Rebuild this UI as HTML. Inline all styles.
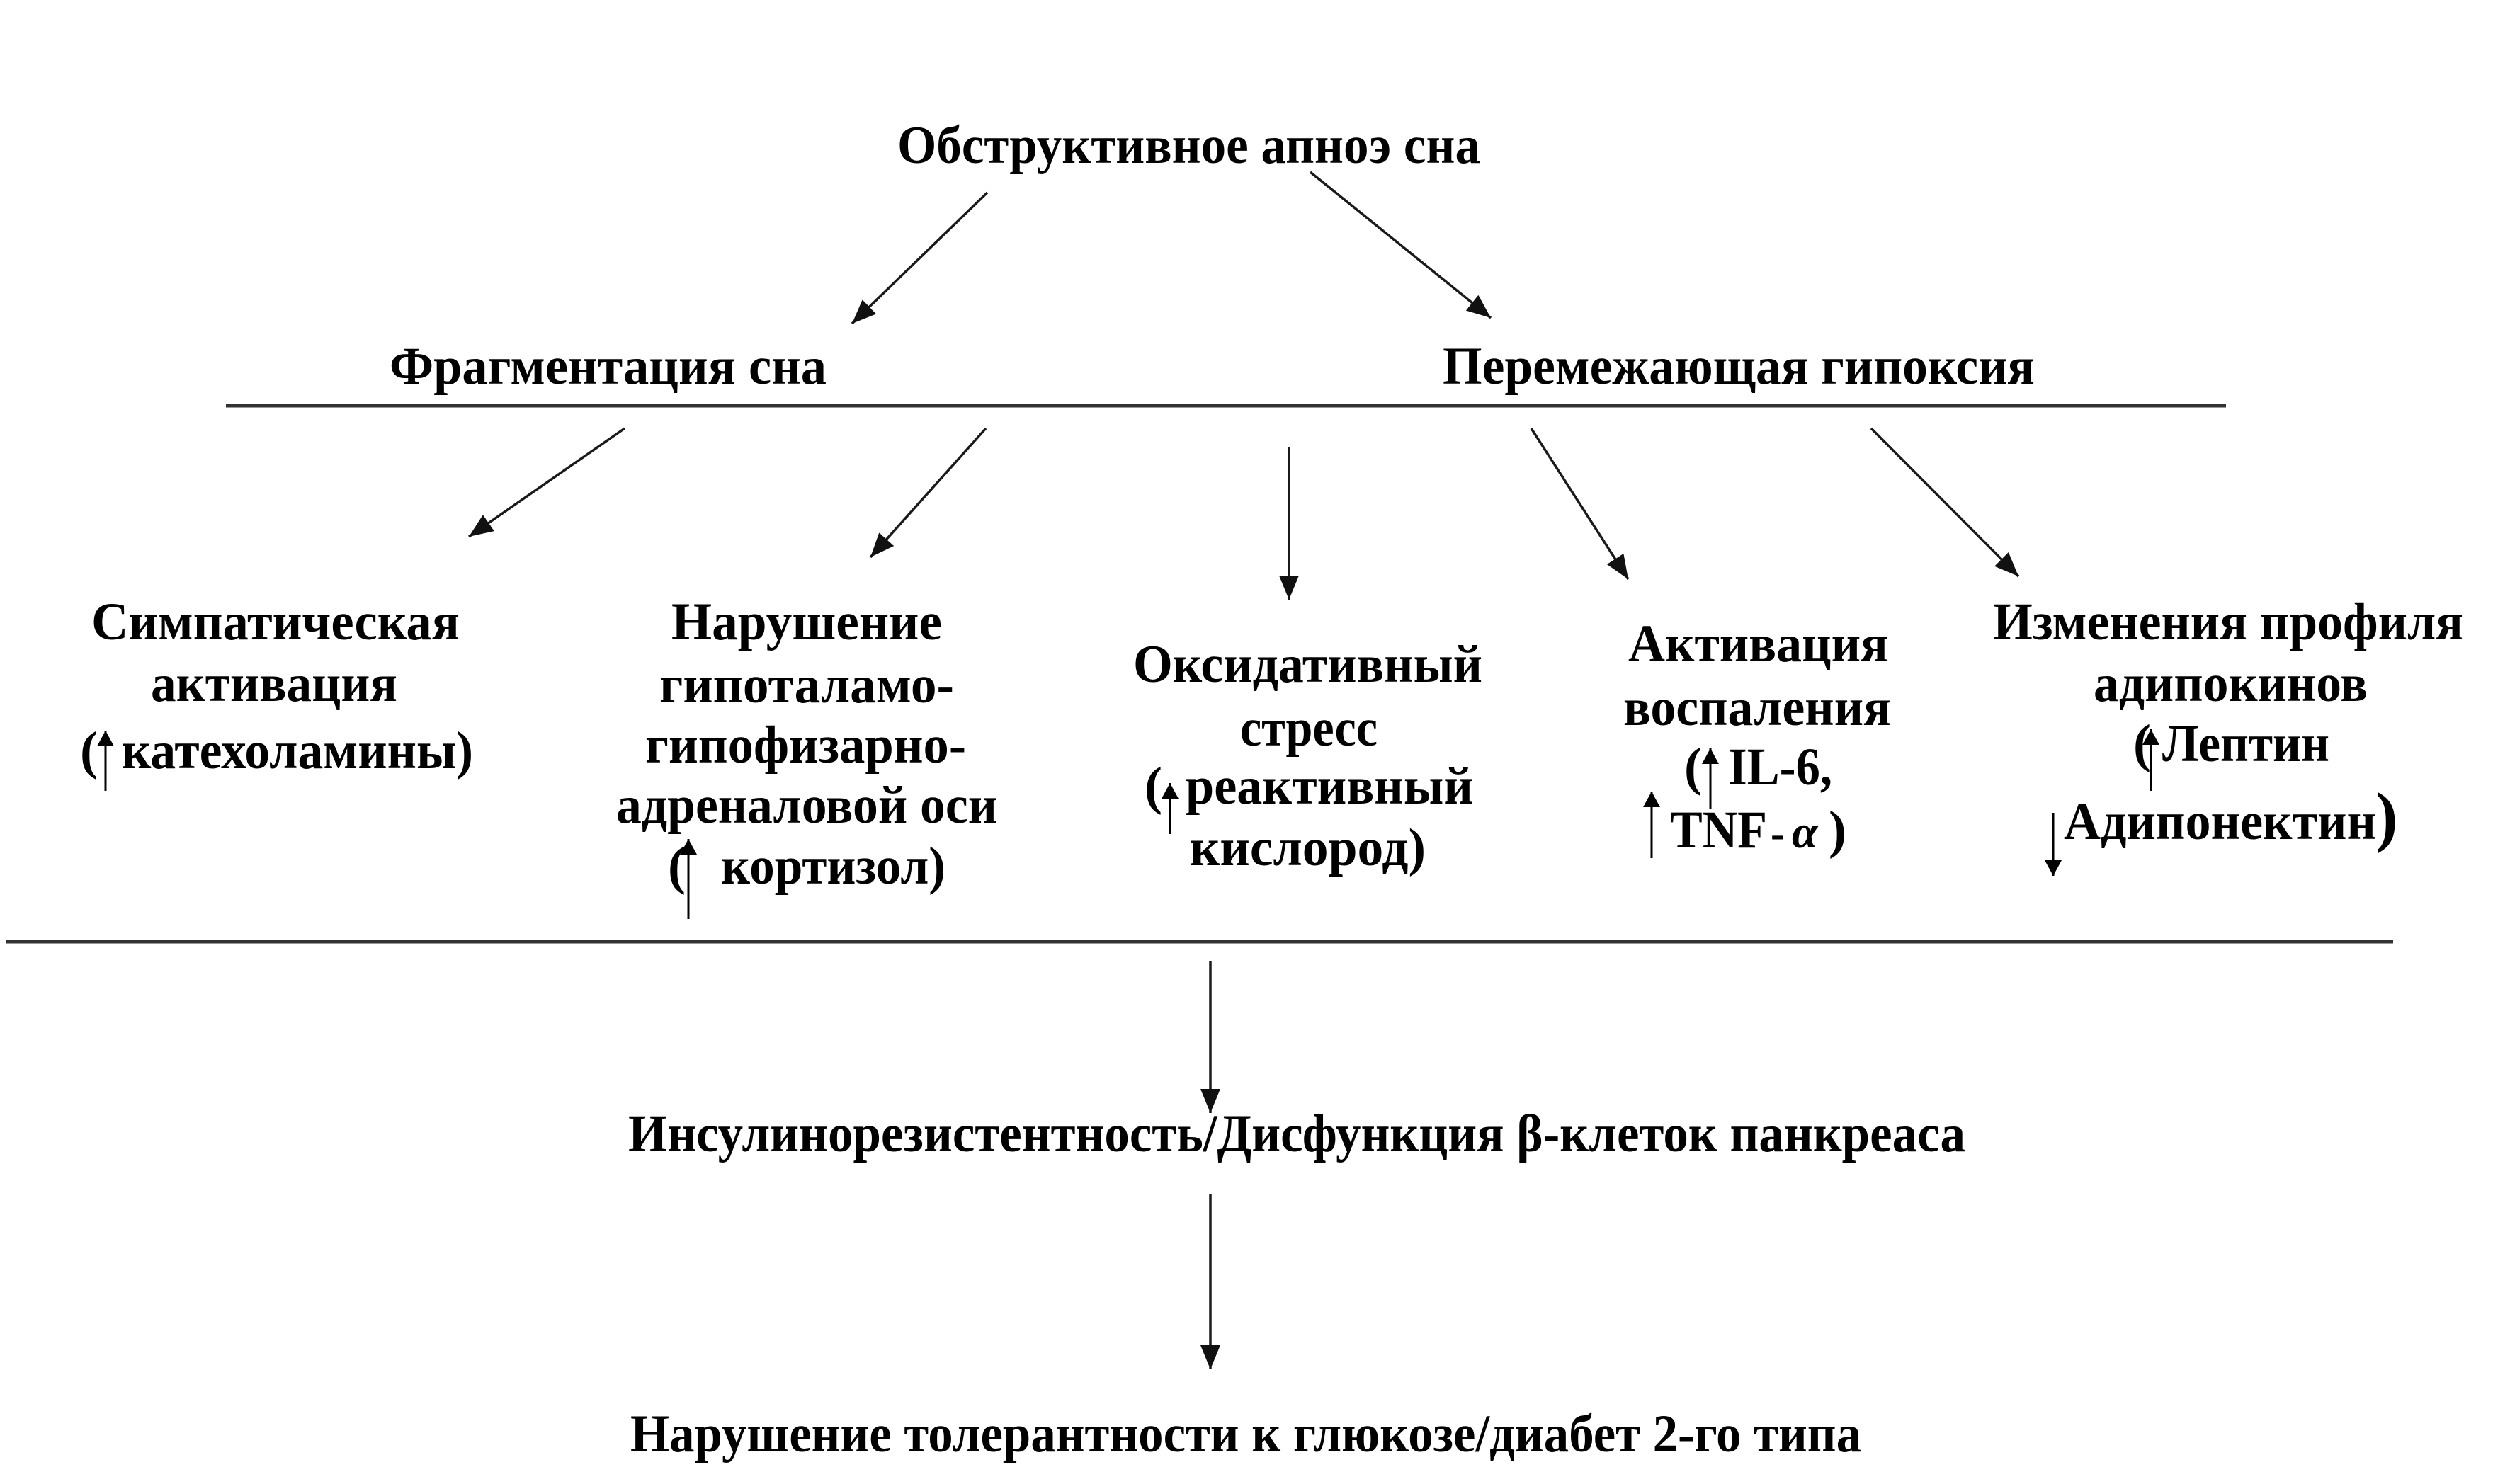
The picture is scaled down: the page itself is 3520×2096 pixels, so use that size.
<!DOCTYPE html>
<html>
<head>
<meta charset="utf-8">
<style>
html,body{margin:0;padding:0;background:#fff;}
svg{display:block;}
</style>
</head>
<body>
<svg width="3520" height="2096" viewBox="0 0 3520 2096" xmlns="http://www.w3.org/2000/svg">
<defs>
<marker id="ah" markerUnits="userSpaceOnUse" markerWidth="34" markerHeight="28" refX="34" refY="14" orient="auto">
<path d="M0,0 L34,14 L0,28 z" fill="#111"/>
</marker>
<marker id="sh" markerUnits="userSpaceOnUse" markerWidth="22" markerHeight="24" refX="22" refY="12" orient="auto">
<path d="M0,0 L22,12 L0,24 z" fill="#000"/>
</marker>
</defs>
<rect width="3520" height="2096" fill="#fff"/>

<!-- horizontal rules -->
<line x1="319" y1="573" x2="3143" y2="573" stroke="#333" stroke-width="5"/>
<line x1="9" y1="1330" x2="3379" y2="1330" stroke="#333" stroke-width="5"/>

<!-- main connectors -->
<g stroke="#1a1a1a" stroke-width="3.5" fill="none">
<line x1="1394" y1="272" x2="1203" y2="457" marker-end="url(#ah)"/>
<line x1="1850" y1="243" x2="2105" y2="449" marker-end="url(#ah)"/>
<line x1="882" y1="605" x2="662" y2="758" marker-end="url(#ah)"/>
<line x1="1392" y1="605" x2="1229" y2="787" marker-end="url(#ah)"/>
<line x1="1820" y1="632" x2="1820" y2="847" marker-end="url(#ah)"/>
<line x1="2162" y1="605" x2="2299" y2="818" marker-end="url(#ah)"/>
<line x1="2642" y1="605" x2="2850" y2="814" marker-end="url(#ah)"/>
<line x1="1709" y1="1358" x2="1709" y2="1572" marker-end="url(#ah)"/>
<line x1="1709" y1="1687" x2="1709" y2="1934" marker-end="url(#ah)"/>
</g>

<!-- inline small arrows -->
<g stroke="#000" stroke-width="3" fill="none">
<line x1="149" y1="1117" x2="149" y2="1032" marker-end="url(#sh)"/>
<line x1="972" y1="1298" x2="972" y2="1185" marker-end="url(#sh)"/>
<line x1="1652" y1="1178" x2="1652" y2="1106" marker-end="url(#sh)"/>
<line x1="2415" y1="1143" x2="2415" y2="1057" marker-end="url(#sh)"/>
<line x1="2332" y1="1212" x2="2332" y2="1118" marker-end="url(#sh)"/>
<line x1="3037" y1="1117" x2="3037" y2="1030" marker-end="url(#sh)"/>
<line x1="2899" y1="1148" x2="2899" y2="1237" marker-end="url(#sh)"/>
</g>

<g font-family="'Liberation Serif', 'Noto Serif CJK SC', serif" font-weight="bold" font-size="75" fill="#000">
<text x="1267" y="230" textLength="823" lengthAdjust="spacingAndGlyphs">Обструктивное апноэ сна</text>
<text x="550" y="542" textLength="617" lengthAdjust="spacingAndGlyphs">Фрагментация сна</text>
<text x="2037" y="542" textLength="836" lengthAdjust="spacingAndGlyphs">Перемежающая гипоксия</text>

<!-- column 1 -->
<text x="129" y="903" textLength="520" lengthAdjust="spacingAndGlyphs">Симпатическая</text>
<text x="213" y="990" textLength="348" lengthAdjust="spacingAndGlyphs">активация</text>
<text x="113" y="1085">(</text>
<text x="172" y="1085" textLength="496" lengthAdjust="spacingAndGlyphs">катехоламины)</text>

<!-- column 2 -->
<text x="948" y="903" textLength="382" lengthAdjust="spacingAndGlyphs">Нарушение</text>
<text x="931" y="992" textLength="416" lengthAdjust="spacingAndGlyphs">гипоталамо-</text>
<text x="911" y="1077" textLength="453" lengthAdjust="spacingAndGlyphs">гипофизарно-</text>
<text x="870" y="1162" textLength="538" lengthAdjust="spacingAndGlyphs">адреналовой оси</text>
<text x="943" y="1248">(</text>
<text x="1018" y="1248" textLength="317" lengthAdjust="spacingAndGlyphs">кортизол)</text>

<!-- column 3 -->
<text x="1600" y="963" textLength="493" lengthAdjust="spacingAndGlyphs">Оксидативный</text>
<text x="1751" y="1053" textLength="194" lengthAdjust="spacingAndGlyphs">стресс</text>
<text x="1616" y="1135">(</text>
<text x="1674" y="1135" textLength="406" lengthAdjust="spacingAndGlyphs">реактивный</text>
<text x="1680" y="1222" textLength="333" lengthAdjust="spacingAndGlyphs">кислород)</text>

<!-- column 4 -->
<text x="2299" y="934" textLength="367" lengthAdjust="spacingAndGlyphs">Активация</text>
<text x="2292" y="1024" textLength="378" lengthAdjust="spacingAndGlyphs">воспаления</text>
<text x="2378" y="1108">(</text>
<text x="2440" y="1108" textLength="147" lengthAdjust="spacingAndGlyphs">IL-6,</text>
<text x="2358" y="1197" textLength="137" lengthAdjust="spacingAndGlyphs">TNF</text>
<text x="2500" y="1197" font-size="60">-</text>
<text x="2530" y="1197" font-size="66" font-style="italic">α</text>
<text x="2582" y="1197">)</text>

<!-- column 5 -->
<text x="2814" y="903" textLength="664" lengthAdjust="spacingAndGlyphs">Изменения профиля</text>
<text x="2956" y="990" textLength="387" lengthAdjust="spacingAndGlyphs">адипокинов</text>
<text x="3012" y="1075">(</text>
<text x="3053" y="1075" textLength="236" lengthAdjust="spacingAndGlyphs">Лептин</text>
<text x="2914" y="1185" textLength="441" lengthAdjust="spacingAndGlyphs">Адипонектин</text>
<text x="3354" y="1185" font-size="95">)</text>

<!-- bottom -->
<text x="887" y="1626" textLength="1888" lengthAdjust="spacingAndGlyphs">Инсулинорезистентность/Дисфункция β-клеток панкреаса</text>
<text x="890" y="2050" textLength="1738" lengthAdjust="spacingAndGlyphs">Нарушение толерантности к глюкозе/диабет 2-го типа</text>
</g>
</svg>
</body>
</html>
